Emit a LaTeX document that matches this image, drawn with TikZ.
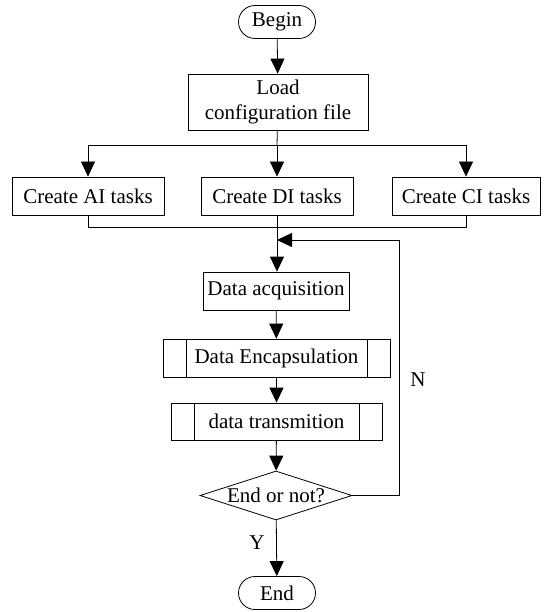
\documentclass[tikz,border=0pt]{standalone}
\usepackage{fontspec}
\setmainfont{Liberation Serif}
\usepackage{tikz}
\usetikzlibrary{arrows.meta, shapes, positioning}
\tikzstyle{terminal} = [rounded rectangle, draw=black, minimum width=77pt, minimum height=33pt, inner sep=0]
\tikzstyle{process} = [rectangle, draw=black, minimum height=38pt, inner sep=0]
\tikzstyle{predefined} = [rectangle, draw=black, minimum height=38pt, inner sep=0,
                    path picture={\draw ([xshift=23pt]path picture bounding box.north west) -- ([xshift=23pt]path picture bounding box.south west);
                                  \draw ([xshift=-23pt]path picture bounding box.north east) -- ([xshift=-23pt]path picture bounding box.south east);}]
\tikzstyle{decision} = [diamond, draw=black, minimum width=152pt, minimum height=49pt, inner sep=0]
\tikzstyle{flow} = [-{Triangle[length=15pt, width=14pt]}]

\begin{document}
\begin{tikzpicture}[x=1pt, y=-1pt, line width=0.8pt, font=\fontsize{21}{25}\selectfont]
					\useasboundingbox (0, 0) rectangle (546, 612);

					\node (Begin) [terminal] at (277, 22) {Begin};
					\node (Load) [process, minimum width=180pt, minimum height=56pt, align=center] at (278, 102) {Load\\configuration file};
					\draw [flow] (Begin) -- (Load);

					\coordinate (Split) at (277, 145);
					\draw (Load) -- (Split);

					\node (AITask) [process, minimum width=152pt] at (88, 196) {Create AI tasks};
					\node (DITask) [process, minimum width=152pt] at (277, 196) {Create DI tasks};
					\node (CITask) [process, minimum width=148pt] at (466, 196) {Create CI tasks};
					\draw [flow] (Split) -| (AITask.north);
					\draw [flow] (Split) -- (DITask.north);
					\draw [flow] (Split) -| (CITask.north);

					\coordinate (Merge) at (277, 227);
					\draw (AITask.south) |- (Merge);
					\draw (CITask.south) |- (Merge);
					\draw (DITask.south) -- (Merge);

					\node (Acquire) [process, minimum width=146pt] at (276, 291) {Data acquisition};
					\draw [flow] (Merge) -- (Acquire.north -| Merge);

					\node (Encap) [predefined, minimum width=227pt] at (276.5, 358) {Data Encapsulation};
					\draw [flow] (Acquire) -- (Encap);

					\node (Trans) [predefined, minimum width=211pt, minimum height=37pt] at (276.5, 421.5) {data transmition};
					\draw [flow] (Encap) -- (Trans);

					\node (Decide) [decision] at (276, 495.5) {\makebox[0pt]{End or not?}};
					\draw [flow] (Trans) -- (Decide);

					\node (End) [terminal] at (277, 593) {End};
					\draw [flow] (Decide) -- (End);
					\node (Yes) at (257, 543) {Y};

					\coordinate (LoopIn) at (277, 240);
					\coordinate (LoopCorner) at (399, 240);
					\draw [flow] (Decide.east) -| (LoopCorner) -- (LoopIn);
					\node (No) at (418, 380) {N};
				\end{tikzpicture}
\end{document}
